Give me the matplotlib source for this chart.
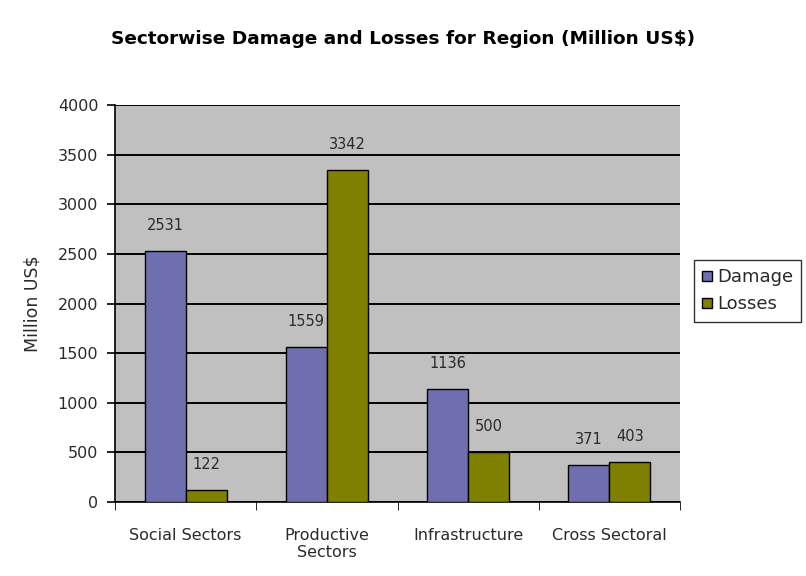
import numpy as np
import matplotlib
matplotlib.use("Agg")
import matplotlib.pyplot as plt

# ===================== DATOS =====================
categorias = ["Social Sectors", "Productive\nSectors", "Infrastructure", "Cross Sectoral"]
damage = [2531, 1559, 1136, 371]
losses = [122, 3342, 500, 403]
series = ["Damage", "Losses"]
yticks = [0, 500, 1000, 1500, 2000, 2500, 3000, 3500, 4000]
# =================================================

COLOR_DAMAGE = "#6f6fb0"
COLOR_LOSSES = "#808000"
COLOR_FONDO = "#c0c0c0"
COLOR_TEXTO = "#2a2a2a"

fig = plt.figure(figsize=(8.06, 5.76), dpi=100)
ax = fig.add_axes([0.1427, 0.1285, 0.701, 0.689])
ax.set_facecolor(COLOR_FONDO)

x = np.arange(len(categorias))
ancho = 0.29

b1 = ax.bar(x - ancho / 2, damage, ancho, color=COLOR_DAMAGE, edgecolor="black",
            linewidth=1.0, label=series[0], zorder=3)
b2 = ax.bar(x + ancho / 2, losses, ancho, color=COLOR_LOSSES, edgecolor="black",
            linewidth=1.0, label=series[1], zorder=3)

for barras in (b1, b2):
    for r in barras:
        ax.annotate(f"{int(r.get_height())}",
                    (r.get_x() + r.get_width() / 2, r.get_height()),
                    xytext=(0, 13), textcoords="offset points",
                    ha="center", va="bottom", fontsize=10.5, color=COLOR_TEXTO)

ax.set_xlim(-0.5, len(categorias) - 0.5)
ax.set_ylim(0, 4000)
ax.set_yticks(yticks)
ax.yaxis.grid(True, color="black", linewidth=1.4, zorder=1)
ax.set_axisbelow(True)

ax.set_xticks(x)
ax.set_xticklabels(categorias, fontsize=11.5, color=COLOR_TEXTO, linespacing=1.1)
ax.set_xticks(np.arange(-0.5, len(categorias)), minor=True)
ax.tick_params(axis="x", which="major", length=0, pad=19)
ax.tick_params(axis="x", which="minor", length=6, color="black", direction="out")
ax.tick_params(axis="y", labelsize=11.5, labelcolor=COLOR_TEXTO, length=6, width=1.2, pad=6)

ax.set_ylabel("Million US$", fontsize=12.5, color=COLOR_TEXTO, labelpad=12)

for lado in ("top", "right"):
    ax.spines[lado].set_visible(False)
ax.spines["left"].set_linewidth(1.2)
ax.spines["bottom"].set_linewidth(1.2)

fig.suptitle("Sectorwise Damage and Losses for Region (Million US$)",
             x=0.5, y=0.948, fontsize=13.3, fontweight="bold", color="black")

leg = fig.legend(handles=[b1, b2], loc="center left", bbox_to_anchor=(0.857, 0.495),
                 fontsize=13, frameon=True, fancybox=False, edgecolor="black",
                 handlelength=0.55, handleheight=0.55, handletextpad=0.25,
                 borderpad=0.45, labelspacing=0.5, borderaxespad=0.2)
leg.get_frame().set_linewidth(1.0)
for t in leg.get_texts():
    t.set_color(COLOR_TEXTO)

fig.savefig("out.png", dpi=100)
